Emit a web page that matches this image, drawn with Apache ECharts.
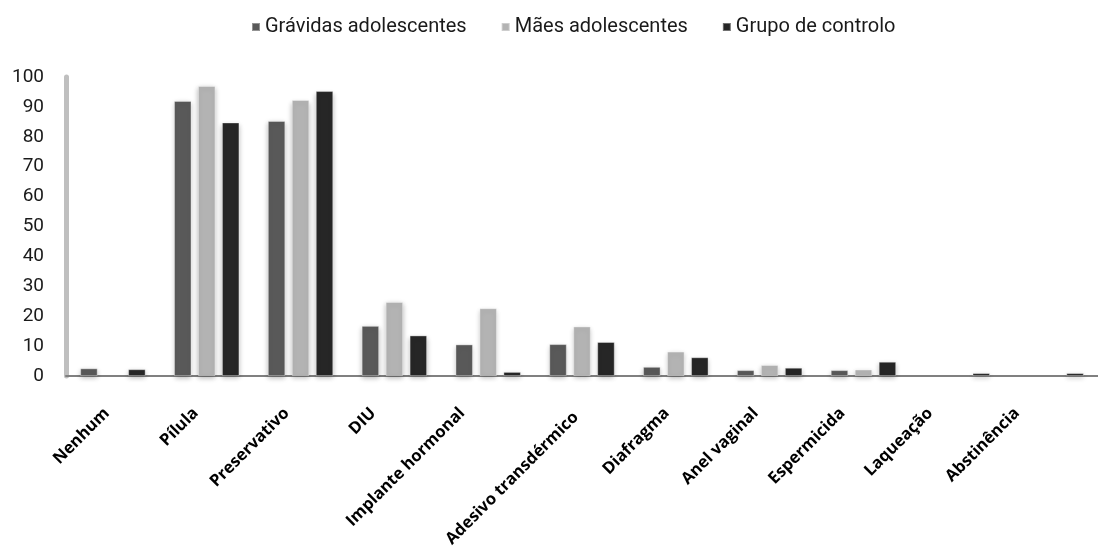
<!DOCTYPE html>
<html>
<head>
<meta charset="utf-8">
<script src="https://cdn.jsdelivr.net/npm/echarts@6/dist/echarts.min.js"></script>
<style>
  html, body { margin: 0; padding: 0; background: #ffffff; }
  #chart { width: 1098px; height: 550px; }
</style>
</head>
<body>
<div id="chart"></div>
<script>
// Métodos contracetivos conhecidos (%), por grupo
const categories = ['Nenhum', 'Pílula', 'Preservativo', 'DIU', 'Implante hormonal', 'Adesivo transdérmico',
  'Diafragma', 'Anel vaginal', 'Espermicida', 'Laqueação', 'Abstinência'];
const seriesNames = ['Grávidas adolescentes', 'Mães adolescentes', 'Grupo de controlo'];
const gravidas = [2.6, 92, 85.3, 16.8, 10.6, 10.7, 3.1, 2, 2, 0, 0];
const maes = [0, 97, 92.3, 24.8, 22.7, 16.6, 8.2, 3.7, 2.2, 0, 0];
const controlo = [2.3, 84.8, 95.3, 13.6, 1.4, 11.4, 6.3, 2.8, 4.8, 1, 1];
const yTicks = [0, 10, 20, 30, 40, 50, 60, 70, 80, 90, 100];

// horizontal / vertical nudge (px) of each rotated category label relative to its tick
const labelShiftX = [6, 11, 14, 21, 26, 6, 9, 14, 21, 27, 34];
const labelShiftY = [0, 0, 0, 0, 0, 4, 0, 0, 0, 0, 0];

const colors = ['#595959', '#b3b3b3', '#262626'];
const values = [gravidas, maes, controlo];

const chart = echarts.init(document.getElementById('chart'));

function barSeries(i) {
  return {
    name: seriesNames[i],
    type: 'bar',
    // a zero share draws no bar at all
    data: values[i].map(v => (v === 0 ? null : v)),
    barWidth: 17.5,
    barGap: '37%',
    itemStyle: {
      color: colors[i],
      borderColor: 'rgba(255,255,255,0.35)',
      borderWidth: 1,
      shadowColor: 'rgba(0,0,0,0.28)',
      shadowBlur: 5,
      shadowOffsetY: 2
    }
  };
}

// A rotated (45°) label moved left by sx and down by sy:
// right padding slides it back along its baseline, bottom padding lifts it across.
const K = Math.SQRT1_2;
const labelRich = {};
categories.forEach((c, i) => {
  const sx = labelShiftX[i], sy = labelShiftY[i];
  const along = K * (sx + sy);
  const across = 2 * K * (sx - sy);
  labelRich['c' + i] = {
    fontSize: 16.5,
    fontWeight: 'bold',
    color: '#000000',
    fontFamily: '"Open Sans", sans-serif',
    padding: [0, along, across, 0]
  };
});

chart.setOption({
  animation: false,
  backgroundColor: '#ffffff',
  color: colors,
  textStyle: { fontFamily: 'Roboto, "Liberation Sans", sans-serif' },
  legend: {
    top: 12,
    left: 246,
    icon: 'rect',
    itemWidth: 8,
    itemHeight: 8,
    itemGap: 34,
    data: seriesNames,
    textStyle: { fontSize: 20, color: '#1a1a1a', fontFamily: 'Roboto, sans-serif' }
  },
  grid: { left: 66, right: -15, top: 77, bottom: 173.5, containLabel: false },
  xAxis: {
    type: 'category',
    data: categories,
    axisLine: { lineStyle: { color: '#808080', width: 2 } },
    axisTick: { show: false },
    axisLabel: {
      interval: 0,
      rotate: 45,
      margin: 34.5,
      formatter: (value, index) => '{c' + index + '|' + value + '}',
      rich: labelRich
    },
    splitLine: { show: false }
  },
  yAxis: {
    type: 'value',
    min: yTicks[0],
    max: yTicks[yTicks.length - 1],
    interval: yTicks[1] - yTicks[0],
    axisLine: { show: true, lineStyle: { color: '#bfbfbf', width: 5 } },
    axisTick: { show: false },
    splitLine: { show: false },
    axisLabel: {
      margin: 22,
      fontSize: 19,
      color: '#1a1a1a',
      fontFamily: 'Roboto, sans-serif'
    }
  },
  series: [barSeries(0), barSeries(1), barSeries(2)]
});
</script>
</body>
</html>
